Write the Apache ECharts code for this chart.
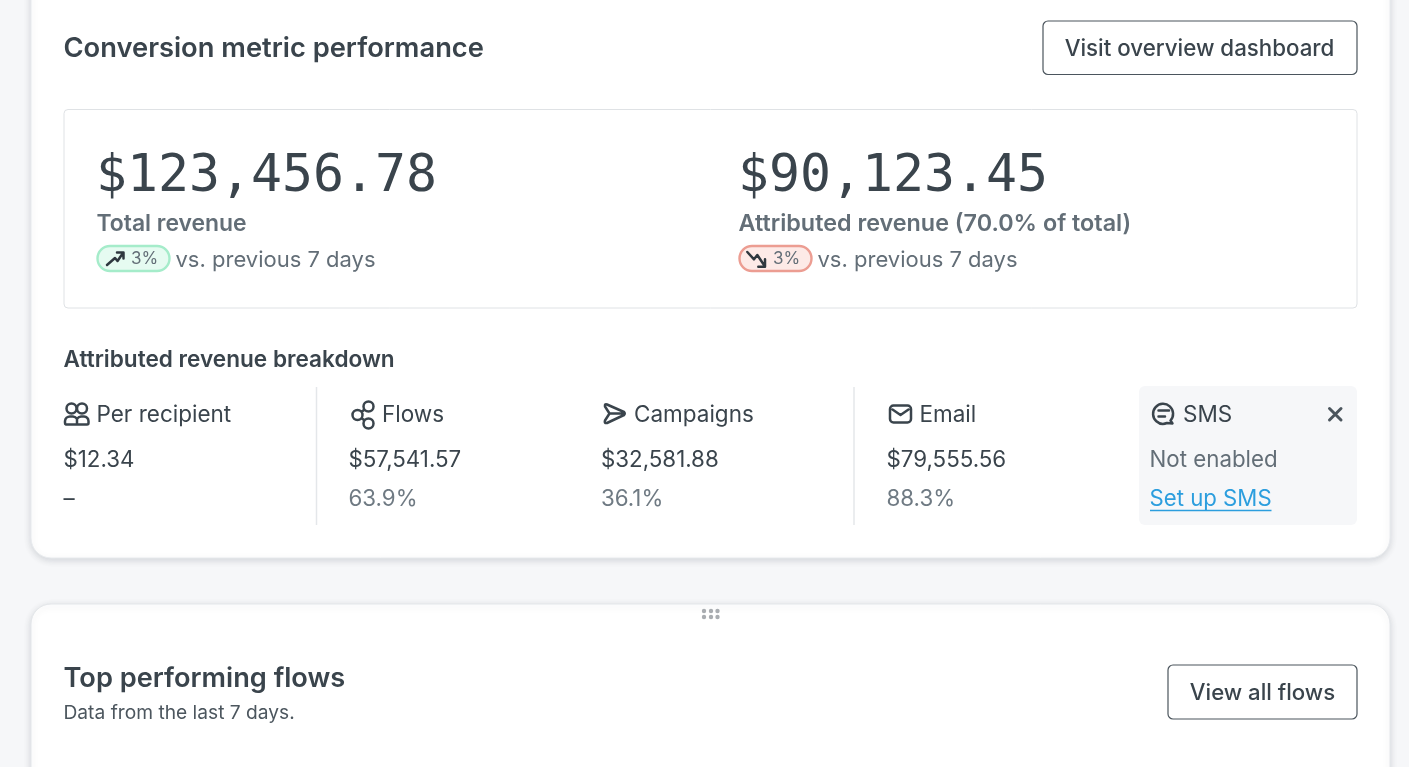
<!DOCTYPE html>
<html><head><meta charset="utf-8">
<style>html,body{margin:0;padding:0;background:#f6f7f9}#c{width:1409px;height:767px}</style>
<script src="https://cdn.jsdelivr.net/npm/echarts@6/dist/echarts.min.js"></script>
</head><body><div id="c"></div>
<script>
const SANS = 'Inter, "Noto Sans", sans-serif';
const MONO = '"DejaVu Sans Mono", monospace';
const cardTitle = 'Conversion metric performance';
const overviewButton = 'Visit overview dashboard';
const heroValues = ['$123,456.78', '$90,123.45'];
const heroLabels = ['Total revenue', 'Attributed revenue (70.0% of total)'];
const heroChange = ['3%', '3%'];
const comparison = 'vs. previous 7 days';
const breakdownTitle = 'Attributed revenue breakdown';
const breakdownNames = ['Per recipient', 'Flows', 'Campaigns', 'Email', 'SMS'];
const breakdownValues = ['$12.34', '$57,541.57', '$32,581.88', '$79,555.56', 'Not enabled'];
const breakdownShares = ['–', '63.9%', '36.1%', '88.3%', 'Set up SMS'];
const flowsTitle = 'Top performing flows';
const flowsSub = 'Data from the last 7 days.';
const flowsButton = 'View all flows';

const DARK = '#3a444c', MID = '#636e77', G = [];
let shapeCount = 0;
const pathType = d => {
  const name = 'iconPath' + (shapeCount++);
  echarts.graphic.registerShape(name, echarts.graphic.extendPath(d, {}));
  return name;
};
const txt = (x, y, text, size, color, o = {}) => G.push({type:'text', x, y, z:10, style:{
  text, fontSize:size, fontFamily:o.font||SANS, fontWeight:o.weight||400, fill:color,
  textAlign:o.align||'left', textVerticalAlign:'middle'}});
const rect = (x, y, width, height, r, fill, stroke, lw, extra = {}) => G.push({type:'rect', z:extra.z||2,
  shape:{x, y, width, height, r}, style:Object.assign({fill, stroke, lineWidth:lw||0}, extra.style||{})});
const line = (x1, y1, x2, y2, stroke, lw) => G.push({type:'line', z:3, shape:{x1,y1,x2,y2}, style:{stroke, lineWidth:lw}});
const icon = (d, x, y, stroke, lw) => G.push({type:pathType(d), z:5, x, y,
  style:{fill:'none', stroke, lineWidth:lw, lineCap:'round', lineJoin:'round'}});

const cardShadow = {shadowColor:'rgba(40,50,60,0.16)', shadowBlur:7, shadowOffsetY:2};
rect(31, -30, 1359, 588, 20, '#fff', '#e8ebee', 1, {style:cardShadow});
rect(31, 604, 1359, 220, 20, '#fff', '#e4e7ea', 1, {style:cardShadow});

txt(63.5, 49, cardTitle, 27.3, DARK, {weight:600});
rect(1043, 21, 314, 53.5, 5, '#fff', '#4b555d', 1.2);
txt(1199.5, 49.5, overviewButton, 22.3, DARK, {align:'center', weight:500});

rect(64, 109.5, 1293, 198.5, 4, '#fff', '#dfe2e5', 1);

const heroX = [97, 739];
const heroLabelSize = [22.9, 23.35];
const pillFill = ['#e6fbf1', '#fdeae7'], pillStroke = ['#a5ecca', '#ec9d92'];
const arrows = ['M0 13 L8 6 L10.5 9 L16 1 M10 0.5 L16.5 0.5 L16.5 6.5', 'M-1.7 0 L5 7.3 L8.3 3 L15 13 M16 7.3 L16 14.7 L9.3 14.7'];
heroX.forEach((x, i) => {
  txt(x - 1, 178, heroValues[i], 51.5, DARK, {font:MONO});
  txt(x - 0.5, 224, heroLabels[i], heroLabelSize[i], MID, {weight:600});
  rect(x + 0.5, 246, 72, 25, 12.5, pillFill[i], pillStroke[i], 2.4);
  icon(arrows[i], x + 10, 252, '#2f383f', 2.5);
  txt(x + 34, 259, heroChange[i], 17, MID);
  txt(x + 78.5, 260, comparison, 22, MID);
});

txt(63.5, 360, breakdownTitle, 22.6, DARK, {weight:600});

rect(1139, 386, 218, 139, 6, '#f6f7f9');
line(316.5, 387, 316.5, 525, '#e4e7ea', 1.5);
line(854, 387, 854, 525, '#e4e7ea', 1.5);

const colX = [63.5, 348.5, 601, 886.5, 1149.5];
const labelX = [96.5, 382, 634, 919.5, 1183];
const circle = (cx, cy, r) => `M${cx - r} ${cy} A${r} ${r} 0 1 1 ${cx + r} ${cy} A${r} ${r} 0 1 1 ${cx - r} ${cy} Z `;
const icons = [
  circle(71.5, 408.5, 5) + circle(82, 408.5, 5) +
    'M66 424.5 A1.5 1.5 0 0 1 65 423 L65 421 A5 5 0 0 1 70 416.5 L73 416.5 A5 5 0 0 1 77 419 A5 5 0 0 1 81 416.5 L84 416.5 A5 5 0 0 1 88.5 421 L88.5 423 A1.5 1.5 0 0 1 87 424.5 Z M77 419 L77 424.5',
  circle(368.5, 406.5, 5) + circle(357.5, 415, 5) + circle(368.5, 423.5, 5) + 'M361.5 412 L364.5 409.5 M361.5 418 L364.5 420.5',
  'M607 404.5 L624 412 Q625.5 413.5 624 415 L607 423 Q604 423.5 605 420.5 L609.5 413.5 L605 406.5 Q604.5 403.5 607 404.5 Z M609.5 413.5 L624.5 413.5',
  'M893.5 405.5 L907.5 405.5 A3.5 3.5 0 0 1 911 409 L911 419 A3.5 3.5 0 0 1 907.5 422.5 L893.5 422.5 A3.5 3.5 0 0 1 890 419 L890 409 A3.5 3.5 0 0 1 893.5 405.5 Z M892.5 409.5 L900.5 415 L908.5 409.5',
  'M1172.5 423.5 L1170.5 420.5 A10 10 0 1 0 1167 423 Z M1158.5 410.5 L1169 410.5 M1158.5 416.5 L1165 416.5'
];
breakdownNames.forEach((n, i) => {
  icon(icons[i], 0, 0, DARK, 2.5);
  txt(labelX[i], 415, n, 22.5, DARK);
  txt(colX[i], 460.5, breakdownValues[i], 22.3, i === 4 ? MID : DARK);
  if (i < 4) txt(colX[i], 499.5, breakdownShares[i], 22.3, i === 0 ? DARK : '#6f7a83');
});
txt(colX[4], 499.5, breakdownShares[4], 22.2, '#2c9ede');
line(1150, 510.5, 1271.5, 510.5, '#2c9ede', 1.5);
icon('M1329.5 408.5 L1341 420 M1341 408.5 L1329.5 420', 0, 0, '#4b555d', 3);

[703, 710, 716.5].forEach(x => [611, 617].forEach(y =>
  G.push({type:'circle', z:5, shape:{cx:x + 1, cy:y, r:2.2}, style:{fill:'#a9adb1'}})));

txt(63.5, 679, flowsTitle, 27.2, DARK, {weight:600});
txt(63.5, 713, flowsSub, 19.2, '#4c565e');
rect(1168, 665, 189, 54, 5, '#fff', '#4b555d', 1.2);
txt(1262.5, 693.5, flowsButton, 22.2, DARK, {align:'center', weight:500});

const chart = echarts.init(document.getElementById('c'), null, {renderer:'canvas', width:1409, height:767});
chart.setOption({backgroundColor:'#f6f7f9', animation:false, graphic:{elements:G}});
</script></body></html>
